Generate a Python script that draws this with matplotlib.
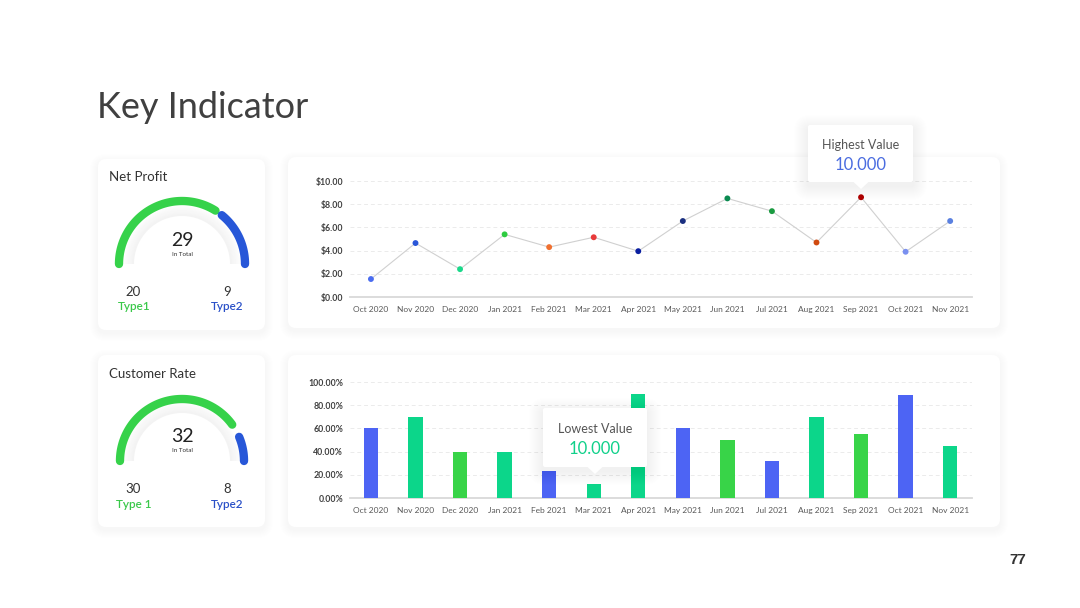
import numpy as np
import matplotlib
matplotlib.use('Agg')
import matplotlib.pyplot as plt
from matplotlib.patches import FancyBboxPatch, Polygon, Wedge

plt.rcParams['font.family'] = ['Lato', 'DejaVu Sans']

# ---------------- data ----------------
months = ['Oct 2020', 'Nov 2020', 'Dec 2020', 'Jan 2021', 'Feb 2021', 'Mar 2021', 'Apr 2021',
          'May 2021', 'Jun 2021', 'Jul 2021', 'Aug 2021', 'Sep 2021', 'Oct 2021', 'Nov 2021']
profit = [1.55, 4.65, 2.4, 5.4, 4.3, 5.15, 3.95, 6.55, 8.5, 7.4, 4.7, 8.6, 3.9, 6.55]
profit_colors = ['#4A6CF0', '#2A56D8', '#1AD98A', '#2ECC40', '#F07030', '#E83A3A', '#0A1FA0',
                 '#1A2F80', '#0A8A50', '#1A9A40', '#D04A10', '#B00000', '#7A90F0', '#5A80E0']
profit_ticks = [0, 2, 4, 6, 8, 10]

rate = [60, 70, 40, 40, 23, 12.5, 90, 60, 50, 31.5, 69.5, 55.5, 88.5, 44.5]
rate_colors = ['#4D64F4', '#0CD68A', '#38D448', '#0CD68A', '#4D64F4', '#0CD68A', '#0CD68A',
               '#4D64F4', '#38D448', '#4D64F4', '#0CD68A', '#38D448', '#4D64F4', '#0CD68A']
rate_ticks = [0, 20, 40, 60, 80, 100]

gauge_titles = ['Net Profit', 'Customer Rate']
gauge_totals = [29, 32]
gauge_type1 = [20, 30]
gauge_type2 = [9, 8]
gauge_type1_labels = ['Type1', 'Type 1']
gauge_type2_labels = ['Type2', 'Type2']
total_label = 'In Total'

title = 'Key Indicator'
high_label, high_value = 'Highest Value', '10.000'
low_label, low_value = 'Lowest Value', '10.000'
page_number = '77'

# ---------------- layout ----------------
W, H = 1080, 608
fig = plt.figure(figsize=(W / 100, H / 100), dpi=100)
fig.patch.set_facecolor('white')

bg = fig.add_axes([0, 0, 1, 1], zorder=0)
bg.set_xlim(0, W)
bg.set_ylim(H, 0)
bg.axis('off')

GREEN = '#36D24A'
BLUE = '#2757D8'


def card(ax, x0, y0, x1, y1, r=8, spread=10, alpha=0.010, dy=3, zorder=1, face=True):
    for k in range(spread, 0, -1):
        ax.add_patch(FancyBboxPatch((x0 - k, y0 - k + dy), (x1 - x0) + 2 * k, (y1 - y0) + 2 * k,
                                    boxstyle=f'round,pad=0,rounding_size={r + k}',
                                    fc='black', ec='none', alpha=alpha, zorder=zorder))
    if face:
        ax.add_patch(FancyBboxPatch((x0, y0), x1 - x0, y1 - y0,
                                    boxstyle=f'round,pad=0,rounding_size={r}',
                                    fc='white', ec='none', zorder=zorder + 0.5))


# big faint background shadow
card(bg, 110, 160, 990, 530, r=20, spread=35, alpha=0.0012, dy=8, zorder=0.5, face=False)

card(bg, 98, 159, 265, 330, spread=8, alpha=0.005)
card(bg, 98, 355, 265, 527, spread=8, alpha=0.005)
card(bg, 288, 157, 1000, 328, spread=8, alpha=0.005)
card(bg, 288, 355, 1000, 527, spread=8, alpha=0.005)

bg.text(97, 108, title, fontsize=26, color='#404040', va='center', ha='left')
bg.text(1018, 560, page_number, fontsize=11, color='#333333', fontweight='bold',
        family=['Liberation Sans', 'DejaVu Sans'], ha='center', va='center')

# ---------------- gauges ----------------
gauge_geom = [(182, 264, 63), (182, 461, 62)]
gaps = [(2, 5), (-2, 15)]
for i in range(2):
    cx, cy, r = gauge_geom[i]
    t1, t2 = gauge_type1[i], gauge_type2[i]
    boundary = 180 * (1 - t1 / (t1 + t2))
    g1, g2 = gaps[i]
    # halo / inner disc
    n = 12
    for k in range(n):
        rr = 58 - k * 0.8
        shade = 0.99 - 0.04 * (k / n)
        bg.add_patch(Wedge((cx, cy), rr, 180, 360, fc=(shade, shade, shade), ec='none', zorder=2))
    bg.add_patch(Wedge((cx, cy), 48, 180, 360, fc='white', ec='none', zorder=2.1))
    # arcs
    th = np.radians(np.linspace(180, boundary + g1, 120))
    bg.plot(cx + r * np.cos(th), cy - r * np.sin(th), color=GREEN, lw=6, solid_capstyle='round', zorder=3)
    th = np.radians(np.linspace(boundary - g2, 0, 60))
    bg.plot(cx + r * np.cos(th), cy - r * np.sin(th), color=BLUE, lw=6, solid_capstyle='round', zorder=3)

    bg.text(109, cy - 87, gauge_titles[i], fontsize=9.5, color='#333333', ha='left', va='center', zorder=4)
    bg.text(cx, cy - 24, str(gauge_totals[i]), fontsize=14, color='#222222', ha='center', va='center', zorder=4)
    bg.text(cx, cy - 10, total_label, fontsize=4.5, color='#333333', ha='center', va='center', zorder=4)
    bg.text(133, cy + 28, str(t1), fontsize=9.5, color='#333333', ha='center', va='center', zorder=4)
    bg.text(134, cy + 43, gauge_type1_labels[i], fontsize=8.5, color='#3AC84A', ha='center', va='center',
            fontweight='semibold', zorder=4)
    bg.text(227, cy + 28, str(t2), fontsize=9.5, color='#333333', ha='center', va='center', zorder=4)
    bg.text(227, cy + 43, gauge_type2_labels[i], fontsize=8.5, color='#2A50C8', ha='center', va='center',
            fontweight='semibold', zorder=4)

# ---------------- charts ----------------
x = np.arange(len(months))
XL = (-0.47, 13.49)


def style_axis(ax):
    ax.set_facecolor('none')
    for s in ['top', 'right', 'left']:
        ax.spines[s].set_visible(False)
    ax.spines['bottom'].set_color('#D9D9D9')
    ax.spines['bottom'].set_linewidth(1.3)
    ax.tick_params(axis='both', length=0)
    ax.tick_params(axis='y', pad=5, labelsize=6.3, labelcolor='#404040')
    ax.tick_params(axis='x', pad=6.5, labelsize=6, labelcolor='#595959')
    for lab in ax.get_yticklabels():
        lab.set_fontweight('bold')
    ax.yaxis.grid(True, color='#EBEBEB', lw=0.7, ls=(0, (4, 3)))
    ax.set_axisbelow(True)
    ax.set_xlim(*XL)
    ax.set_xticks(x)
    ax.set_xticklabels(months)


ax1 = fig.add_axes([350 / W, 1 - 297 / H, 622 / W, 116 / H], zorder=2)
ax1.plot(x, profit, color='#D0D0D0', lw=0.8, zorder=2, clip_on=False)
ax1.scatter(x, profit, c=profit_colors, s=18, zorder=3, clip_on=False, linewidths=0)
ax1.set_ylim(0, 10)
ax1.set_yticks(profit_ticks)
ax1.set_yticklabels([f'${v:.2f}' for v in profit_ticks])
style_axis(ax1)

ax2 = fig.add_axes([350 / W, 1 - 498 / H, 622 / W, 116 / H], zorder=2)
ax2.bar(x, rate, width=0.32, color=rate_colors, zorder=3)
ax2.set_ylim(0, 100)
ax2.set_yticks(rate_ticks)
ax2.set_yticklabels([f'{v:.2f}%' for v in rate_ticks])
style_axis(ax2)

# ---------------- tooltips ----------------
ov = fig.add_axes([0, 0, 1, 1], zorder=5)
ov.set_xlim(0, W)
ov.set_ylim(H, 0)
ov.axis('off')
ov.patch.set_alpha(0)


def tooltip(ax, x0, y0, x1, y1, tipx, tipy, label, value, vcolor):
    for k in range(14, 0, -1):
        ax.add_patch(FancyBboxPatch((x0 - k, y0 - k + 4), (x1 - x0) + 2 * k, (y1 - y0) + 2 * k,
                                    boxstyle=f'round,pad=0,rounding_size={2 + k}',
                                    fc='black', ec='none', alpha=0.004, zorder=1))
    ax.add_patch(FancyBboxPatch((x0, y0), x1 - x0, y1 - y0, boxstyle='round,pad=0,rounding_size=2',
                                fc='white', ec='none', zorder=2))
    ax.add_patch(Polygon([(tipx - 8, y1 - 0.5), (tipx + 8, y1 - 0.5), (tipx, tipy)],
                         closed=True, fc='white', ec='none', zorder=2))
    cxx = (x0 + x1) / 2
    ax.text(cxx, y0 + (y1 - y0) * 0.35, label, fontsize=9, color='#555555', ha='center', va='center', zorder=3)
    ax.text(cxx, y0 + (y1 - y0) * 0.70, value, fontsize=12, color=vcolor, ha='center', va='center', zorder=3)


tooltip(ov, 808, 125, 913, 182, 861, 189, high_label, high_value, '#4A6CE0')
tooltip(ov, 543, 408, 647, 467, 595, 474, low_label, low_value, '#10D08A')

fig.savefig('out.png', dpi=100, facecolor='white')
